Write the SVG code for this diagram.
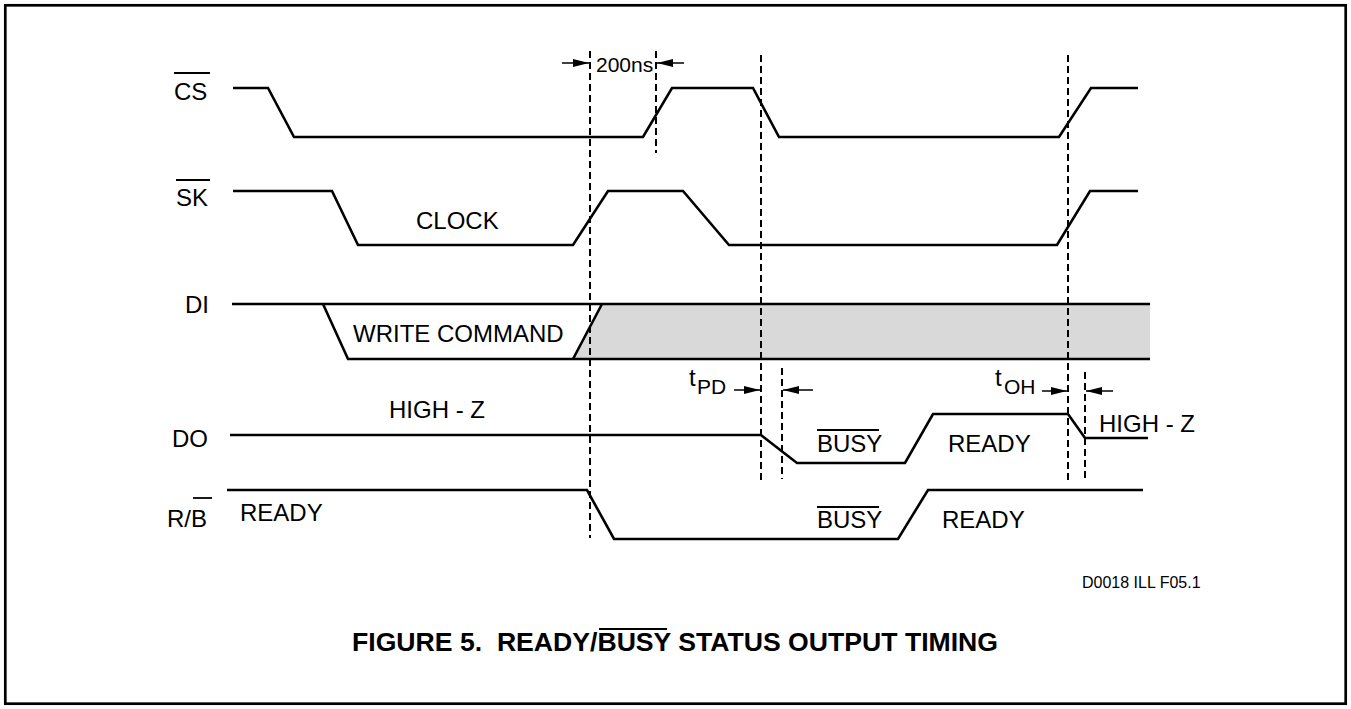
<svg xmlns="http://www.w3.org/2000/svg" width="1351" height="709" viewBox="0 0 1351 709">
<style>
.wave{fill:none;stroke:#000;stroke-width:2.6;stroke-linejoin:miter}
.ovl{stroke:#000;stroke-width:1.8}
.dash{stroke:#000;stroke-width:2;stroke-dasharray:7 4;fill:none}
.arr{stroke:#000;stroke-width:1.5;fill:none;marker-end:url(#ah)}
.t{font-family:"Liberation Sans",Arial,sans-serif;font-size:24px;fill:#000}
.sub{font-family:"Liberation Sans",Arial,sans-serif;font-size:21px;fill:#000}
.cap{font-family:"Liberation Sans",Arial,sans-serif;font-size:25px;font-weight:bold;fill:#000}
.sm{font-family:"Liberation Sans",Arial,sans-serif;font-size:16px;fill:#000}
</style>
<defs>
<marker id="ah" markerUnits="userSpaceOnUse" markerWidth="17" markerHeight="9" refX="16" refY="4.5" orient="auto">
<path d="M0,0.5 L16,4.5 L0,8.5 z" fill="#000"/>
</marker>
</defs>
<rect x="0" y="0" width="1351" height="709" fill="#fff"/>
<rect x="5.3" y="5.3" width="1340.4" height="698.4" fill="none" stroke="#000" stroke-width="2.7"/>

<g id="sig-cs">
<text class="t" x="174" y="100">CS</text>
<line class="ovl" x1="174" y1="73" x2="210" y2="73"/>
<path class="wave" d="M233,88 H268 L294,137 H643 L672,88 H753 L779,137 H1059 L1091,88 H1138"/>
</g>

<g id="sig-sk">
<text class="t" x="176" y="206">SK</text>
<line class="ovl" x1="176" y1="180" x2="210" y2="180"/>
<path class="wave" d="M233,191 H332 L358,245 H573 L608,191 H683 L729,245 H1057 L1090,191 H1138"/>
<text class="t" x="416" y="229">CLOCK</text>
</g>

<g id="sig-di">
<text class="t" x="185" y="313">DI</text>
<polygon points="573,359 602,304 1150,304 1150,359" fill="#d9d9d9"/>
<path class="wave" d="M232,304 H1150 M323,304 L348,359 H1150 M573,359 L602,304"/>
<text class="t" x="353" y="342">WRITE COMMAND</text>
</g>

<g id="sig-do">
<text class="t" x="172" y="447">DO</text>
<path class="wave" d="M230,435 H761 L797,463 H905 L933,414 H1068 L1085,438 H1148"/>
<text class="t" x="389" y="418">HIGH - Z</text>
<text class="t" x="817" y="452">BUSY</text>
<line class="ovl" x1="817" y1="430" x2="879" y2="430"/>
<text class="t" x="948" y="452">READY</text>
<text class="t" x="1099" y="432">HIGH - Z</text>
</g>

<g id="sig-rb">
<text class="t" x="167" y="527">R/B</text>
<line class="ovl" x1="193" y1="498" x2="212" y2="498"/>
<path class="wave" d="M227,490 H587 L614,539 H898 L928,490 H1143"/>
<text class="t" x="240" y="521">READY</text>
<text class="t" x="817" y="528">BUSY</text>
<line class="ovl" x1="817" y1="507" x2="879" y2="507"/>
<text class="t" x="942" y="528">READY</text>
</g>

<g id="connectors">
<line class="dash" x1="590" y1="51" x2="590" y2="538"/>
<line class="dash" x1="656" y1="51" x2="656" y2="153"/>
<line class="dash" x1="761" y1="55" x2="761" y2="482"/>
<line class="dash" x1="782" y1="368" x2="782" y2="479"/>
<line class="dash" x1="1068" y1="55" x2="1068" y2="484"/>
<line class="dash" x1="1085" y1="372" x2="1085" y2="482"/>
<line class="arr" x1="562" y1="63" x2="589" y2="63"/>
<line class="arr" x1="684" y1="63" x2="657" y2="63"/>
<line class="arr" x1="734" y1="390" x2="760" y2="390"/>
<line class="arr" x1="813" y1="390" x2="783" y2="390"/>
<line class="arr" x1="1042" y1="391" x2="1067" y2="391"/>
<line class="arr" x1="1113" y1="391" x2="1086" y2="391"/>
</g>

<g id="labels">
<text class="sub" x="596" y="72">200ns</text>
<text class="t" x="689" y="386">t</text><text class="sub" x="697" y="394">PD</text>
<text class="t" x="995" y="386">t</text><text class="sub" x="1004" y="394">OH</text>
<text class="sm" x="1082" y="588">D0018 ILL F05.1</text>
</g>

<g id="caption">
<text class="cap" x="352" y="651" textLength="646" lengthAdjust="spacingAndGlyphs" xml:space="preserve">FIGURE 5.  READY/BUSY STATUS OUTPUT TIMING</text>
<line class="ovl" x1="599" y1="629" x2="667" y2="629"/>
</g>
</svg>
